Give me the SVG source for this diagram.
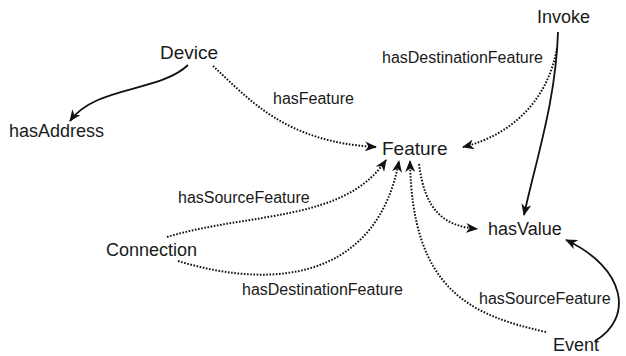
<svg xmlns="http://www.w3.org/2000/svg" width="626" height="356" viewBox="0 0 626 356">
<style>
text{font-family:"Liberation Sans",Arial,sans-serif;fill:#1a1a1a}
.n{font-size:18px}
.l{font-size:16px}
.s{fill:none;stroke:#111;stroke-width:1.8}
.d{fill:none;stroke:#111;stroke-width:2;stroke-dasharray:1.6 1.6}
</style>
<defs>
<marker id="a" viewBox="0 0 12 10" refX="11" refY="5" markerWidth="12" markerHeight="10" markerUnits="userSpaceOnUse" orient="auto">
<path d="M0,0 L12,5 L0,10 L3.5,5 z" fill="#111"/>
</marker>
</defs>
<rect width="626" height="356" fill="#fff"/>
<g id="connectors">
<path class="s" d="M188,65 C160,92 95,86 70,121" marker-end="url(#a)"/>
<path class="d" d="M213,66 C250,100 285,142 376,147" marker-end="url(#a)"/>
<path class="d" d="M557,48 C548,100 512,135 463,147" marker-end="url(#a)"/>
<path class="s" d="M558,32 C556,100 536,160 524,215" marker-end="url(#a)"/>
<path class="d" d="M167,237 C250,212 345,222 386,160" marker-end="url(#a)"/>
<path class="d" d="M178,261 C280,292 378,275 399,161" marker-end="url(#a)"/>
<path class="d" d="M546,332 C470,315 412,290 410,161" marker-end="url(#a)"/>
<path class="d" d="M419,164 C425,212 445,226 477,229" marker-end="url(#a)"/>
<path class="s" d="M595,341 C634,318 626,268 566,240" marker-end="url(#a)"/>
<text class="l" x="273" y="104">hasFeature</text>
<text class="l" x="382" y="63">hasDestinationFeature</text>
<text class="l" x="178" y="203">hasSourceFeature</text>
<text class="l" x="242" y="295">hasDestinationFeature</text>
<text class="l" x="479" y="304">hasSourceFeature</text>
</g>
<g id="Device"><text class="n" x="160" y="59" style="font-size:19px">Device</text></g>
<g id="hasAddress"><text class="n" x="9" y="137">hasAddress</text></g>
<g id="Invoke"><text class="n" x="537" y="23">Invoke</text></g>
<g id="Feature"><text class="n" x="382" y="155" style="font-size:19px">Feature</text></g>
<g id="hasValue"><text class="n" x="488" y="235">hasValue</text></g>
<g id="Connection"><text class="n" x="106" y="256">Connection</text></g>
<g id="Event"><text class="n" x="553" y="351">Event</text></g>
</svg>
